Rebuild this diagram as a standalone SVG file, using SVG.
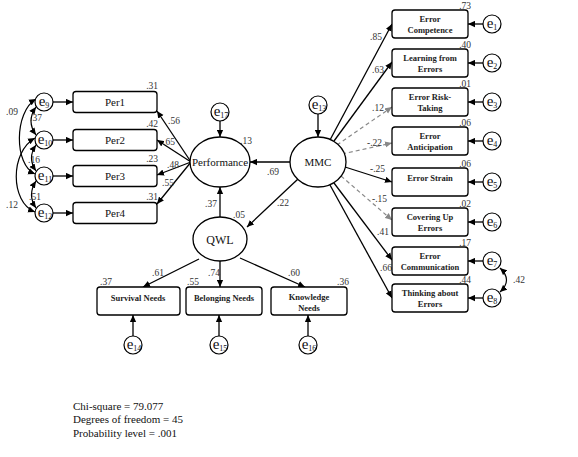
<svg xmlns="http://www.w3.org/2000/svg" width="578" height="457" viewBox="0 0 578 457">
<defs>
<marker id="ah" viewBox="0 0 10 10" refX="10" refY="5" markerWidth="7" markerHeight="7" markerUnits="userSpaceOnUse" orient="auto-start-reverse"><path d="M0,0.5 L10,5 L0,9.5 z" fill="#000"/></marker>
<marker id="ahg" viewBox="0 0 10 10" refX="10" refY="5" markerWidth="7" markerHeight="7" markerUnits="userSpaceOnUse" orient="auto"><path d="M0,0.5 L10,5 L0,9.5 z" fill="#888"/></marker>
<style>
.bx{fill:#fff;stroke:#000;stroke-width:1.3}
.ov{fill:#fff;stroke:#000;stroke-width:1.3}
.ec{fill:#fff;stroke:#000;stroke-width:1.2}
.ln{stroke:#000;stroke-width:1.3;fill:none;marker-end:url(#ah)}
.cv{stroke:#000;stroke-width:1.2;fill:none;marker-end:url(#ah);marker-start:url(#ah)}
.dl{stroke:#888;stroke-width:1.2;fill:none;stroke-dasharray:4 3;marker-end:url(#ahg)}
text{font-family:"Liberation Serif","Times New Roman",serif}
.c{font-size:9.5px;fill:#333}
.ce{font-size:9.5px;fill:#333;text-anchor:end}
.n{font-size:11px;text-anchor:middle;fill:#111}
.b{font-size:8.5px;font-weight:bold;text-anchor:middle;fill:#222}
.e{font-size:15px;text-anchor:middle;fill:#111}
.s{font-size:8px}
.f{font-size:11px;fill:#111}
</style>
</defs>

<g id="connectors">
<!-- left error to Per -->
<path class="ln" d="M53,102 H73"/>
<path class="ln" d="M53,140 H73"/>
<path class="ln" d="M53,176 H73"/>
<path class="ln" d="M53,213 H73"/>
<!-- covariances left -->
<path class="cv" d="M36,107 Q26,121 36,135"/>
<path class="cv" d="M36,145 Q27,158 36,171"/>
<path class="cv" d="M36,181 Q27,195 36,208"/>
<path class="cv" d="M36,99 C14,112 14,165 35,174"/>
<path class="cv" d="M35,138 C10,152 10,202 35,212"/>
<!-- Performance to Per -->
<path class="ln" d="M191,162 L157,111"/>
<path class="ln" d="M191,162 L157,140"/>
<path class="ln" d="M191,162 L157,175"/>
<path class="ln" d="M191,162 L157,204"/>
<!-- e17, e13 -->
<path class="ln" d="M220,121 V137"/>
<path class="ln" d="M318,114 V137"/>
<!-- structural -->
<path class="ln" d="M290,162 H250"/>
<path class="ln" d="M298,179 L247,227"/>
<path class="ln" d="M220,217 V187"/>
<!-- QWL indicators -->
<path class="ln" d="M199,259 L143,287"/>
<path class="ln" d="M220,261 V287"/>
<path class="ln" d="M240,258 L305,287"/>
<path class="ln" d="M133,336 V315"/>
<path class="ln" d="M219,336 V315"/>
<path class="ln" d="M308,336 V315"/>
<!-- MMC indicators -->
<path class="ln" d="M330,140 L392,24"/>
<path class="ln" d="M334,141 L392,62"/>
<path class="dl" d="M337,145 L392,107"/>
<path class="dl" d="M342,154 L392,143"/>
<path class="ln" d="M345,167 L392,182"/>
<path class="dl" d="M341,176 L392,220"/>
<path class="ln" d="M334,183 L392,260"/>
<path class="ln" d="M330,185 L392,298"/>
<!-- e to right boxes -->
<path class="ln" d="M483,24 H468"/>
<path class="ln" d="M483,63 H468"/>
<path class="ln" d="M483,102 H468"/>
<path class="ln" d="M483,141 H468"/>
<path class="ln" d="M483,182 H468"/>
<path class="ln" d="M483,222 H468"/>
<path class="ln" d="M483,261 H468"/>
<path class="ln" d="M483,298 H468"/>
<path class="cv" d="M500,268 Q513,280 500,292"/>
</g>

<g id="labels">
<text class="c" x="6" y="115">.09</text>
<text class="c" x="30" y="121">.37</text>
<text class="c" x="28" y="163">.16</text>
<text class="c" x="29" y="200">.51</text>
<text class="c" x="6" y="208">.12</text>
<text class="ce" x="158" y="89">.31</text>
<text class="ce" x="158" y="127">.42</text>
<text class="ce" x="158" y="162">.23</text>
<text class="ce" x="158" y="200">.31</text>
<text class="c" x="168" y="124">.56</text>
<text class="c" x="163" y="145">.65</text>
<text class="c" x="167" y="168">.48</text>
<text class="c" x="162" y="186">.55</text>
<text class="c" x="240" y="144">.13</text>
<text class="c" x="267" y="175">.69</text>
<text class="c" x="277" y="206">.22</text>
<text class="c" x="205" y="207">.37</text>
<text class="c" x="233" y="218">.05</text>
<text class="c" x="152" y="276">.61</text>
<text class="c" x="208" y="276">.74</text>
<text class="c" x="288" y="276">.60</text>
<text class="c" x="100" y="285">.37</text>
<text class="c" x="187" y="285">.55</text>
<text class="c" x="337" y="285">.36</text>
<text class="c" x="370" y="40">.85</text>
<text class="c" x="372" y="73">.63</text>
<text class="c" x="372" y="111">.12</text>
<text class="c" x="367" y="146">-.22</text>
<text class="c" x="370" y="172">-.25</text>
<text class="c" x="372" y="202">-.15</text>
<text class="c" x="377" y="235">.41</text>
<text class="c" x="380" y="271">.66</text>
<text class="ce" x="471" y="9">.73</text>
<text class="ce" x="471" y="48">.40</text>
<text class="ce" x="471" y="87">.01</text>
<text class="ce" x="471" y="126">.06</text>
<text class="ce" x="471" y="167">.06</text>
<text class="ce" x="471" y="207">.02</text>
<text class="ce" x="471" y="246">.17</text>
<text class="ce" x="471" y="283">.44</text>
<text class="c" x="513" y="283">.42</text>
</g>

<g id="Per1"><rect class="bx" x="73" y="91.5" width="84" height="21" rx="3"/><text class="n" x="115" y="106">Per1</text></g>
<g id="Per2"><rect class="bx" x="73" y="129.5" width="84" height="21" rx="3"/><text class="n" x="115" y="144">Per2</text></g>
<g id="Per3"><rect class="bx" x="73" y="165.5" width="84" height="21" rx="3"/><text class="n" x="115" y="180">Per3</text></g>
<g id="Per4"><rect class="bx" x="73" y="202.5" width="84" height="21" rx="3"/><text class="n" x="115" y="217">Per4</text></g>

<g id="e9"><circle class="ec" cx="44" cy="102" r="9"/><text class="e" x="44" y="106">e<tspan class="s" dy="2">9</tspan></text></g>
<g id="e10"><circle class="ec" cx="44" cy="140" r="9"/><text class="e" x="45" y="144">e<tspan class="s" dy="2">10</tspan></text></g>
<g id="e11"><circle class="ec" cx="44" cy="176" r="9"/><text class="e" x="45" y="180">e<tspan class="s" dy="2">11</tspan></text></g>
<g id="e12"><circle class="ec" cx="44" cy="213" r="9"/><text class="e" x="45" y="217">e<tspan class="s" dy="2">12</tspan></text></g>

<g id="Performance"><ellipse class="ov" cx="220" cy="162" rx="30" ry="25"/><text class="n" x="220" y="166">Performance</text></g>
<g id="e17"><circle class="ec" cx="220" cy="112" r="9"/><text class="e" x="221" y="116">e<tspan class="s" dy="2">17</tspan></text></g>

<g id="MMC"><ellipse class="ov" cx="318" cy="162" rx="28" ry="25"/><text class="n" x="318" y="166">MMC</text></g>
<g id="e13"><circle class="ec" cx="318" cy="105" r="9"/><text class="e" x="319" y="109">e<tspan class="s" dy="2">13</tspan></text></g>

<g id="QWL"><ellipse class="ov" cx="220" cy="239" rx="27" ry="22"/><text class="n" x="220" y="244" style="font-size:12px">QWL</text></g>

<g id="SurvivalNeeds"><rect class="bx" x="97" y="287" width="83" height="28" rx="3"/><text class="b" x="138" y="301">Survival Needs</text></g>
<g id="BelongingNeeds"><rect class="bx" x="186" y="287" width="76" height="28" rx="3"/><text class="b" x="224" y="301">Belonging Needs</text></g>
<g id="KnowledgeNeeds"><rect class="bx" x="271" y="287" width="76" height="28" rx="3"/><text class="b" x="309" y="300">Knowledge</text><text class="b" x="309" y="311">Needs</text></g>
<g id="e14"><circle class="ec" cx="133" cy="345" r="9"/><text class="e" x="134" y="349">e<tspan class="s" dy="2">14</tspan></text></g>
<g id="e15"><circle class="ec" cx="219" cy="345" r="9"/><text class="e" x="220" y="349">e<tspan class="s" dy="2">15</tspan></text></g>
<g id="e16"><circle class="ec" cx="308" cy="345" r="9"/><text class="e" x="309" y="349">e<tspan class="s" dy="2">16</tspan></text></g>

<g id="ErrorCompetence"><rect class="bx" x="392" y="10" width="76" height="28" rx="3"/><text class="b" x="430" y="22">Error</text><text class="b" x="430" y="33">Competence</text></g>
<g id="LearningFromErrors"><rect class="bx" x="392" y="49" width="76" height="28" rx="3"/><text class="b" x="430" y="61">Learning from</text><text class="b" x="430" y="72">Errors</text></g>
<g id="ErrorRiskTaking"><rect class="bx" x="392" y="88" width="76" height="28" rx="3"/><text class="b" x="430" y="100">Error Risk-</text><text class="b" x="430" y="111">Taking</text></g>
<g id="ErrorAnticipation"><rect class="bx" x="392" y="127" width="76" height="28" rx="3"/><text class="b" x="430" y="139">Error</text><text class="b" x="430" y="150">Anticipation</text></g>
<g id="ErrorStrain"><rect class="bx" x="392" y="168" width="76" height="28" rx="3"/><text class="b" x="430" y="181">Error Strain</text></g>
<g id="CoveringUpErrors"><rect class="bx" x="392" y="208" width="76" height="28" rx="3"/><text class="b" x="430" y="220">Covering Up</text><text class="b" x="430" y="231">Errors</text></g>
<g id="ErrorCommunication"><rect class="bx" x="392" y="247" width="76" height="28" rx="3"/><text class="b" x="430" y="259">Error</text><text class="b" x="430" y="270">Communication</text></g>
<g id="ThinkingAboutErrors"><rect class="bx" x="392" y="284" width="76" height="28" rx="3"/><text class="b" x="430" y="296">Thinking about</text><text class="b" x="430" y="307">Errors</text></g>

<g id="e1"><circle class="ec" cx="492" cy="24" r="9"/><text class="e" x="492" y="28">e<tspan class="s" dy="2">1</tspan></text></g>
<g id="e2"><circle class="ec" cx="492" cy="63" r="9"/><text class="e" x="492" y="67">e<tspan class="s" dy="2">2</tspan></text></g>
<g id="e3"><circle class="ec" cx="492" cy="102" r="9"/><text class="e" x="492" y="106">e<tspan class="s" dy="2">3</tspan></text></g>
<g id="e4"><circle class="ec" cx="492" cy="141" r="9"/><text class="e" x="492" y="145">e<tspan class="s" dy="2">4</tspan></text></g>
<g id="e5"><circle class="ec" cx="492" cy="182" r="9"/><text class="e" x="492" y="186">e<tspan class="s" dy="2">5</tspan></text></g>
<g id="e6"><circle class="ec" cx="492" cy="222" r="9"/><text class="e" x="492" y="226">e<tspan class="s" dy="2">6</tspan></text></g>
<g id="e7"><circle class="ec" cx="492" cy="261" r="9"/><text class="e" x="492" y="265">e<tspan class="s" dy="2">7</tspan></text></g>
<g id="e8"><circle class="ec" cx="492" cy="298" r="9"/><text class="e" x="492" y="302">e<tspan class="s" dy="2">8</tspan></text></g>

<g id="fit">
<text class="f" x="73" y="410">Chi-square = 79.077</text>
<text class="f" x="73" y="423">Degrees of freedom = 45</text>
<text class="f" x="73" y="437">Probability level = .001</text>
</g>
</svg>
